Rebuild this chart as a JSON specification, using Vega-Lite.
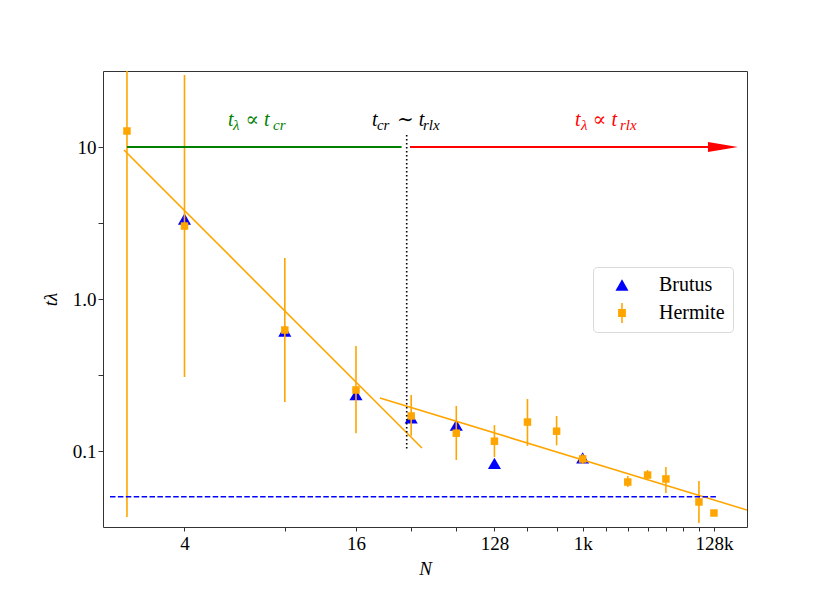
{
  "$schema": "https://vega.github.io/schema/vega-lite/v6.json",
  "description": "t_lambda versus N for Brutus and Hermite runs",
  "autosize": "none",
  "padding": {"left": 103, "top": 71, "right": 83, "bottom": 66},
  "width": 644,
  "height": 456,
  "datasets": {
    "brutus": [
      {"series": "Brutus", "log2N": 2, "t": 3.36},
      {"series": "Brutus", "log2N": 3, "t": 0.616},
      {"series": "Brutus", "log2N": 4, "t": 0.235},
      {"series": "Brutus", "log2N": 5, "t": 0.165},
      {"series": "Brutus", "log2N": 6, "t": 0.148},
      {"series": "Brutus", "log2N": 7, "t": 0.0828},
      {"series": "Brutus", "log2N": 10, "t": 0.09}
    ],
    "hermite": [
      {"series": "Hermite", "log2N": 1.585, "t": 12.74, "lo": 0.0368, "hi": 60},
      {"series": "Hermite", "log2N": 2, "t": 3.02, "lo": 0.307, "hi": 29.8},
      {"series": "Hermite", "log2N": 3, "t": 0.625, "lo": 0.21, "hi": 1.862},
      {"series": "Hermite", "log2N": 4, "t": 0.252, "lo": 0.131, "hi": 0.49},
      {"series": "Hermite", "log2N": 5, "t": 0.17, "lo": 0.126, "hi": 0.234},
      {"series": "Hermite", "log2N": 6, "t": 0.131, "lo": 0.0873, "hi": 0.198},
      {"series": "Hermite", "log2N": 7, "t": 0.116, "lo": 0.0913, "hi": 0.148},
      {"series": "Hermite", "log2N": 8, "t": 0.155, "lo": 0.108, "hi": 0.22},
      {"series": "Hermite", "log2N": 9, "t": 0.135, "lo": 0.109, "hi": 0.17},
      {"series": "Hermite", "log2N": 10, "t": 0.0886, "lo": 0.0821, "hi": 0.0955},
      {"series": "Hermite", "log2N": 12, "t": 0.0625, "lo": 0.058, "hi": 0.0685},
      {"series": "Hermite", "log2N": 13, "t": 0.0695, "lo": 0.0644, "hi": 0.075},
      {"series": "Hermite", "log2N": 14, "t": 0.0655, "lo": 0.053, "hi": 0.0785},
      {"series": "Hermite", "log2N": 16, "t": 0.0462, "lo": 0.0336, "hi": 0.0635},
      {"series": "Hermite", "log2N": 17, "t": 0.0391, "lo": 0.038, "hi": 0.0402}
    ],
    "lines": [
      {"id": "fit1", "log2N": 1.566, "t": 9.56},
      {"id": "fit1", "log2N": 5.223, "t": 0.1046},
      {"id": "fit2", "log2N": 4.407, "t": 0.2233},
      {"id": "fit2", "log2N": 19.43, "t": 0.0409},
      {"id": "floor", "log2N": 1.48, "t": 0.05},
      {"id": "floor", "log2N": 17.21, "t": 0.05},
      {"id": "cr", "log2N": 1.585, "t": 10},
      {"id": "cr", "log2N": 4.81, "t": 10},
      {"id": "rlx", "log2N": 4.976, "t": 10},
      {"id": "rlx", "log2N": 16.9, "t": 10}
    ],
    "labels": [
      {"group": "cr", "kind": "main", "text": "t", "log2N": 2.384, "t": 13.75},
      {"group": "cr", "kind": "sub", "text": "λ", "log2N": 2.433, "t": 13.75},
      {"group": "cr", "kind": "main", "text": "∝ t", "log2N": 2.56, "t": 13.75},
      {"group": "cr", "kind": "sub", "text": "cr", "log2N": 2.86, "t": 13.75},
      {"group": "eq", "kind": "main", "text": "t", "log2N": 4.267, "t": 13.75},
      {"group": "eq", "kind": "sub", "text": "cr", "log2N": 4.354, "t": 13.75},
      {"group": "eq", "kind": "main", "text": "∼ t", "log2N": 4.721, "t": 13.75},
      {"group": "eq", "kind": "sub", "text": "rlx", "log2N": 5.244, "t": 13.75},
      {"group": "rlx", "kind": "main", "text": "t", "log2N": 9.695, "t": 13.75},
      {"group": "rlx", "kind": "sub", "text": "λ", "log2N": 9.934, "t": 13.75},
      {"group": "rlx", "kind": "main", "text": "∝ t", "log2N": 10.42, "t": 13.75},
      {"group": "rlx", "kind": "sub", "text": "rlx", "log2N": 11.63, "t": 13.75}
    ]
  },
  "encoding": {
    "x": {
      "field": "log2N",
      "type": "quantitative",
      "scale": {"type": "log", "domain": [1.4387, 19.43], "nice": false, "zero": false},
      "axis": {
        "title": "N",
        "titleFontStyle": "italic",
        "values": [2, 3, 4, 5, 6, 7, 8, 9, 10, 11, 12, 13, 14, 15, 16, 17],
        "labelExpr": "datum.value == 2 ? '4' : datum.value == 4 ? '16' : datum.value == 7 ? '128' : datum.value == 10 ? '1k' : datum.value == 17 ? '128k' : ''",
        "tickSize": 4,
        "labelPadding": 3,
        "titlePadding": 6
      }
    },
    "y": {
      "field": "t",
      "type": "quantitative",
      "scale": {"type": "log", "domain": [0.031623, 31.623], "nice": false, "zero": false},
      "axis": {
        "title": "tλ",
        "titleFontStyle": "italic",
        "values": [0.1, 0.316228, 1, 3.16228, 10],
        "labelExpr": "datum.value == 10 ? '10' : datum.value == 1 ? '1.0' : datum.value == 0.1 ? '0.1' : ''",
        "tickSize": 5,
        "labelPadding": 2,
        "titlePadding": 12
      }
    }
  },
  "layer": [
    {
      "data": {"name": "brutus"},
      "mark": {"type": "point", "filled": true, "opacity": 1, "size": 170},
      "encoding": {
        "color": {
          "field": "series",
          "type": "nominal",
          "scale": {"domain": ["Brutus", "Hermite"], "range": ["#0000ff", "#ffa500"]},
          "legend": {
            "title": null,
            "orient": "none",
            "legendX": 490,
            "legendY": 196,
            "padding": 8,
            "symbolOffset": 11,
            "cornerRadius": 4,
            "strokeColor": "#d9d9d9",
            "fillColor": "#ffffff",
            "symbolSize": 170,
            "labelOffset": 27,
            "rowPadding": 7
          }
        },
        "shape": {
          "field": "series",
          "type": "nominal",
          "scale": {
            "domain": ["Brutus", "Hermite"],
            "range": ["triangle-up", "M-0.6,-0.6H0.6V0.6H-0.6Z M-0.12,-1.55H0.12V1.55H-0.12Z"]
          }
        }
      }
    },
    {
      "data": {"name": "hermite"},
      "mark": {"type": "rule", "color": "#ffa500", "strokeWidth": 1.6, "clip": true},
      "encoding": {"y": {"field": "lo", "type": "quantitative"}, "y2": {"field": "hi"}}
    },
    {
      "data": {"name": "hermite"},
      "mark": {"type": "point", "filled": true, "opacity": 1, "shape": "square", "size": 56},
      "encoding": {"color": {"field": "series", "type": "nominal"}}
    },
    {
      "data": {"name": "lines"},
      "transform": [{"filter": "datum.id == 'fit1' || datum.id == 'fit2'"}],
      "mark": {"type": "line", "color": "#ffa500", "strokeWidth": 1.6, "clip": true},
      "encoding": {"detail": {"field": "id"}}
    },
    {
      "data": {"name": "lines"},
      "transform": [{"filter": "datum.id == 'floor'"}],
      "mark": {"type": "line", "color": "#0000ff", "strokeWidth": 1.5, "strokeDash": [5.5, 2.4]},
      "encoding": {}
    },
    {
      "data": {"name": "lines"},
      "transform": [{"filter": "datum.id == 'cr'"}],
      "mark": {"type": "line", "color": "#008000", "strokeWidth": 1.8},
      "encoding": {}
    },
    {
      "data": {"name": "lines"},
      "transform": [{"filter": "datum.id == 'rlx'"}],
      "mark": {"type": "line", "color": "#ff0000", "strokeWidth": 2},
      "encoding": {}
    },
    {
      "data": {"values": [{"log2N": 17.63, "t": 10}]},
      "mark": {"type": "point", "filled": true, "opacity": 1, "color": "#ff0000", "shape": "M-1,-0.33L1,0L-1,0.33Z", "size": 900},
      "encoding": {}
    },
    {
      "data": {"values": [{"log2N": 4.91, "t": 12.0, "t2": 0.1}]},
      "mark": {"type": "rule", "color": "#000000", "strokeWidth": 1.6, "strokeDash": [1.6, 2.4]},
      "encoding": {"y2": {"field": "t2"}}
    },
    {
      "data": {"name": "labels"},
      "transform": [{"filter": "datum.kind == 'main'"}],
      "mark": {"type": "text", "align": "left", "baseline": "alphabetic", "font": "Liberation Serif, DejaVu Serif, serif", "fontStyle": "italic", "fontSize": 20},
      "encoding": {
        "text": {"field": "text"},
        "color": {"condition": [{"test": "datum.group == 'cr'", "value": "#008000"}, {"test": "datum.group == 'rlx'", "value": "#ff0000"}], "value": "#000000"}
      }
    },
    {
      "data": {"name": "labels"},
      "transform": [{"filter": "datum.kind == 'sub'"}],
      "mark": {"type": "text", "align": "left", "baseline": "alphabetic", "font": "Liberation Serif, DejaVu Serif, serif", "fontStyle": "italic", "fontSize": 15, "dy": 4},
      "encoding": {
        "text": {"field": "text"},
        "color": {"condition": [{"test": "datum.group == 'cr'", "value": "#008000"}, {"test": "datum.group == 'rlx'", "value": "#ff0000"}], "value": "#000000"}
      }
    }
  ],
  "config": {
    "view": {"stroke": "#333333", "strokeWidth": 1},
    "font": "Liberation Serif, DejaVu Serif, serif",
    "axis": {
      "grid": false,
      "domain": false,
      "tickColor": "#333333",
      "labelColor": "#000000",
      "labelFont": "Liberation Serif, DejaVu Serif, serif",
      "labelFontSize": 19,
      "labelOverlap": false,
      "labelFlush": false,
      "titleFont": "Liberation Serif, DejaVu Serif, serif",
      "titleFontSize": 19,
      "titleFontWeight": "normal",
      "titleColor": "#000000"
    },
    "legend": {
      "labelFont": "Liberation Serif, DejaVu Serif, serif",
      "labelFontSize": 20,
      "labelColor": "#000000"
    }
  }
}
